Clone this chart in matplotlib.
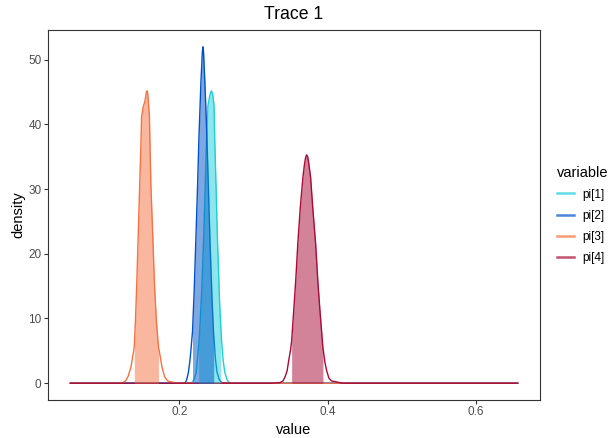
import numpy as np
import matplotlib
matplotlib.use("Agg")
import matplotlib.pyplot as plt
from matplotlib.lines import Line2D

plt.rcParams['font.family'] = ['Liberation Sans', 'DejaVu Sans']

# ---- data ----
labels = ["pi[1]", "pi[2]", "pi[3]", "pi[4]"]
colors = ["#1CCFD9", "#0052C9", "#F77141", "#A80935"]

pi1_x = [0.053, 0.205, 0.2125, 0.2168, 0.2200, 0.2227, 0.2259, 0.2268, 0.2300, 0.2327,
         0.2367, 0.2385, 0.2410, 0.2431, 0.2450, 0.2467, 0.2476, 0.2495, 0.2513, 0.2540,
         0.2559, 0.2567, 0.2590, 0.2612, 0.2640, 0.2667, 0.278, 0.656]
pi1_y = [0, 0, 0.03, 0.1, 0.6, 1.7, 5.7, 6.8, 14.0, 22.3,
         37.8, 42.9, 44.5, 45.2, 44.6, 42.9, 37.8, 30.0, 22.3, 13.0,
         8.5, 6.8, 3.5, 1.7, 0.6, 0.1, 0, 0]

pi2_x = [0.053, 0.196, 0.2050, 0.2082, 0.2100, 0.2122, 0.2145, 0.2168, 0.2177, 0.2200,
         0.2222, 0.2245, 0.2263, 0.2290, 0.2310, 0.2317, 0.2325, 0.2345, 0.2372, 0.2392,
         0.2412, 0.2440, 0.2463, 0.2467, 0.2487, 0.2507, 0.2535, 0.2567, 0.268, 0.656]
pi2_y = [0, 0, 0.02, 0.1, 0.6, 1.7, 3.8, 6.8, 8.0, 14.5,
         22.3, 30.5, 37.8, 46.5, 51.3, 52.0, 51.3, 46.0, 37.8, 30.0,
         22.3, 13.0, 7.2, 6.8, 3.6, 1.7, 0.6, 0.1, 0, 0]

pi3_x = [0.053, 0.118, 0.1240, 0.1275, 0.1310, 0.1347, 0.1384, 0.1392, 0.1408, 0.1425,
         0.1445, 0.1465, 0.1479, 0.149, 0.151, 0.1535, 0.1555, 0.1565, 0.1575, 0.1596,
         0.1605, 0.1615, 0.1640, 0.1664, 0.1690, 0.1718, 0.1728, 0.1765, 0.1800, 0.1841,
         0.196, 0.656]
pi3_y = [0, 0, 0.08, 0.35, 1.1, 2.5, 5.0, 5.8, 9.8, 15.3,
         23.0, 30.8, 36.0, 41.1, 42.6, 43.6, 45.0, 45.2, 44.6, 41.1,
         36.0, 30.8, 23.0, 15.3, 9.5, 5.6, 5.0, 2.5, 1.0, 0.35,
         0, 0]

pi4_x = [0.053, 0.325, 0.3355, 0.3397, 0.3425, 0.3452, 0.3475, 0.3497, 0.3513, 0.3541,
         0.3570, 0.3596, 0.3630, 0.3665, 0.3687, 0.3700, 0.3714, 0.3730, 0.3745, 0.3769,
         0.3800, 0.3837, 0.3865, 0.3895, 0.3935, 0.3941, 0.3962, 0.3986, 0.4015, 0.4050,
         0.42, 0.656]
pi4_y = [0, 0, 0.08, 0.35, 1.0, 1.9, 3.6, 5.0, 6.5, 11.2,
         16.2, 21.5, 27.2, 31.8, 33.9, 34.8, 35.3, 35.0, 33.9, 31.8,
         26.8, 21.5, 16.0, 11.2, 5.4, 5.0, 3.2, 1.9, 0.8, 0.35,
         0, 0]

shade_lo = [0.2259, 0.2177, 0.1392, 0.3513]
shade_hi = [0.2559, 0.2463, 0.1718, 0.3935]

xticks = [0.2, 0.4, 0.6]
yticks = [0, 10, 20, 30, 40, 50]

series_x = [pi1_x, pi2_x, pi3_x, pi4_x]
series_y = [pi1_y, pi2_y, pi3_y, pi4_y]

# ---- figure ----
fig = plt.figure(figsize=(6.15, 4.38), dpi=100)
ax = fig.add_axes([48/615, 1-400/438, (540-48)/615, (400-30)/438])

for x, y, c in zip(series_x, series_y, colors):
    ax.plot(x, y, color=c, lw=1.0, zorder=2)

for x, y, c, lo, hi in zip(series_x, series_y, colors, shade_lo, shade_hi):
    xa = np.asarray(x)
    ya = np.asarray(y)
    m = (xa >= lo - 1e-9) & (xa <= hi + 1e-9)
    ax.fill_between(xa[m], 0, ya[m], color=c, alpha=0.5, lw=0, zorder=3)

ax.margins(x=0.05, y=0.05)
ax.set_xticks(xticks)
ax.set_xticklabels([str(t) for t in xticks])
ax.set_yticks(yticks)

for s in ax.spines.values():
    s.set_color("#333333")
    s.set_linewidth(0.8)
ax.tick_params(colors="#333333", labelcolor="#4D4D4D", labelsize=8.45,
               length=2.6, width=0.8, pad=2)

ax.set_xlabel("value", fontsize=10.56, labelpad=3)
ax.set_ylabel("density", fontsize=10.56, labelpad=2)
ax.set_title("Trace 1", fontsize=12.7, pad=8)

handles = [Line2D([0], [0], color=c, lw=1.8, alpha=0.7) for c in colors]
leg = fig.legend(handles, labels, title="variable", loc="upper left",
                 bbox_to_anchor=(546/615, 1-155/438), frameon=False,
                 fontsize=8.45, title_fontsize=10.56, handlelength=1.45,
                 handletextpad=0.7, labelspacing=0.77, alignment="left")

fig.savefig("out.png", dpi=100)
